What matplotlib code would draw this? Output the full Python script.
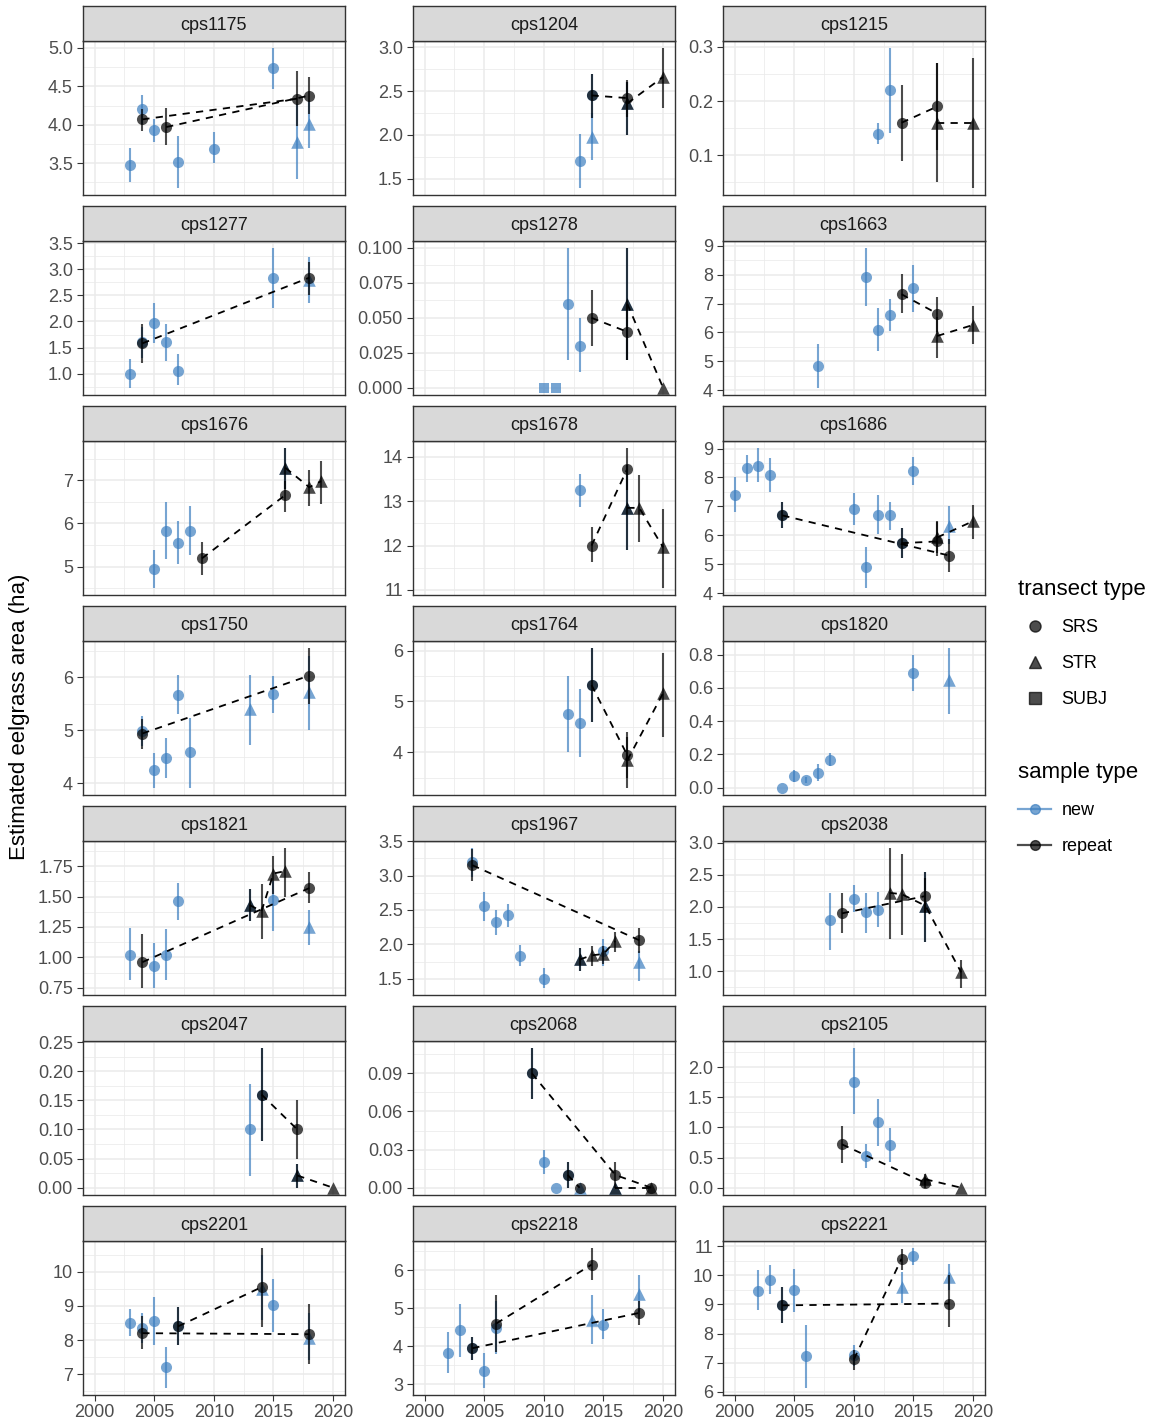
import matplotlib.pyplot as plt
import numpy as np
import pandas as pd
from matplotlib.lines import Line2D

plt.rcParams["font.family"] = ["Liberation Sans", "DejaVu Sans"]

W, H = 1154, 1424

# facet order and y tick labels per facet
sites = [
    "cps1175", "cps1204", "cps1215",
    "cps1277", "cps1278", "cps1663",
    "cps1676", "cps1678", "cps1686",
    "cps1750", "cps1764", "cps1820",
    "cps1821", "cps1967", "cps2038",
    "cps2047", "cps2068", "cps2105",
    "cps2201", "cps2218", "cps2221",
]
site_yticks = [
    ["3.5", "4.0", "4.5", "5.0"], ["1.5", "2.0", "2.5", "3.0"], ["0.1", "0.2", "0.3"],
    ["1.0", "1.5", "2.0", "2.5", "3.0", "3.5"], ["0.000", "0.025", "0.050", "0.075", "0.100"], ["4", "5", "6", "7", "8", "9"],
    ["5", "6", "7"], ["11", "12", "13", "14"], ["4", "5", "6", "7", "8", "9"],
    ["4", "5", "6"], ["4", "5", "6"], ["0.0", "0.2", "0.4", "0.6", "0.8"],
    ["0.75", "1.00", "1.25", "1.50", "1.75"], ["1.5", "2.0", "2.5", "3.0", "3.5"], ["1.0", "1.5", "2.0", "2.5", "3.0"],
    ["0.00", "0.05", "0.10", "0.15", "0.20", "0.25"], ["0.00", "0.03", "0.06", "0.09"], ["0.0", "0.5", "1.0", "1.5", "2.0"],
    ["7", "8", "9", "10"], ["3", "4", "5", "6"], ["6", "7", "8", "9", "10", "11"],
]
site_n = [12, 8, 6, 9, 9, 9, 10, 7, 18, 10, 7, 7, 13, 15, 11, 7, 13, 8, 12, 12, 13]

year = [
    2003, 2004, 2004, 2005, 2006, 2007, 2010, 2015, 2017, 2017, 2018, 2018,  # cps1175
    2013, 2014, 2014, 2014, 2017, 2017, 2017, 2020,  # cps1204
    2012, 2013, 2014, 2017, 2017, 2020,  # cps1215
    2003, 2004, 2004, 2005, 2006, 2007, 2015, 2018, 2018,  # cps1277
    2010, 2011, 2012, 2013, 2014, 2017, 2017, 2017, 2020,  # cps1278
    2007, 2011, 2012, 2013, 2014, 2015, 2017, 2017, 2020,  # cps1663
    2005, 2006, 2007, 2008, 2009, 2016, 2016, 2016, 2018, 2019,  # cps1676
    2013, 2014, 2017, 2017, 2017, 2018, 2020,  # cps1678
    2000, 2001, 2002, 2003, 2004, 2004, 2010, 2011, 2012, 2013, 2014, 2014, 2015, 2017, 2017, 2018, 2018, 2020,  # cps1686
    2004, 2004, 2005, 2006, 2007, 2008, 2013, 2015, 2018, 2018,  # cps1750
    2012, 2013, 2014, 2014, 2017, 2017, 2020,  # cps1764
    2004, 2005, 2006, 2007, 2008, 2015, 2018,  # cps1820
    2003, 2004, 2005, 2006, 2007, 2013, 2013, 2014, 2015, 2015, 2016, 2018, 2018,  # cps1821
    2004, 2004, 2005, 2006, 2007, 2008, 2010, 2013, 2013, 2014, 2015, 2015, 2016, 2018, 2018,  # cps1967
    2008, 2009, 2010, 2011, 2012, 2013, 2014, 2016, 2016, 2016, 2019,  # cps2038
    2013, 2014, 2014, 2017, 2017, 2017, 2020,  # cps2047
    2009, 2009, 2010, 2011, 2012, 2012, 2013, 2013, 2016, 2016, 2016, 2019, 2019,  # cps2068
    2009, 2010, 2011, 2012, 2013, 2016, 2016, 2019,  # cps2105
    2003, 2004, 2004, 2005, 2006, 2007, 2007, 2014, 2014, 2015, 2018, 2018,  # cps2201
    2002, 2003, 2004, 2004, 2005, 2006, 2006, 2014, 2014, 2015, 2018, 2018,  # cps2218
    2002, 2003, 2004, 2004, 2005, 2006, 2010, 2010, 2014, 2014, 2015, 2018, 2018,  # cps2221
]
est = [
    3.48, 4.20, 4.07, 3.93, 3.97, 3.51, 3.69, 4.74, 4.34, 3.78, 4.38, 4.01,
    1.70, 1.98, 2.45, 2.45, 2.42, 2.36, 2.36, 2.66,
    0.14, 0.22, 0.16, 0.19, 0.16, 0.16,
    1.00, 1.60, 1.58, 1.97, 1.60, 1.06, 2.83, 2.84, 2.80,
    0.0, 0.0, 0.060, 0.030, 0.050, 0.040, 0.060, 0.060, 0.0,
    4.83, 7.92, 6.08, 6.61, 7.32, 7.52, 6.65, 5.88, 6.26,
    4.95, 5.82, 5.55, 5.82, 5.19, 6.66, 7.29, 7.29, 6.84, 6.98,
    13.25, 12.00, 13.73, 12.85, 12.85, 12.85, 11.96,
    7.40, 8.32, 8.41, 8.09, 6.69, 6.69, 6.91, 4.89, 6.71, 6.69, 5.73, 5.73, 8.23, 5.79, 5.93, 5.30, 6.34, 6.49,
    4.99, 4.94, 4.25, 4.47, 5.67, 4.59, 5.41, 5.68, 6.03, 5.72,
    4.76, 4.57, 5.32, 5.32, 3.94, 3.84, 5.16,
    0.0, 0.07, 0.048, 0.09, 0.168, 0.69, 0.65,
    1.02, 0.96, 0.93, 1.02, 1.46, 1.43, 1.43, 1.38, 1.69, 1.47, 1.71, 1.57, 1.25,
    3.19, 3.15, 2.56, 2.32, 2.42, 1.83, 1.50, 1.78, 1.78, 1.84, 1.86, 1.90, 2.05, 2.06, 1.75,
    1.79, 1.90, 2.12, 1.92, 1.95, 2.22, 2.20, 2.17, 2.02, 2.02, 0.98,
    0.10, 0.16, 0.16, 0.10, 0.021, 0.021, 0.0,
    0.09, 0.09, 0.02, 0.0, 0.01, 0.01, 0.0, 0.0, 0.01, 0.0, 0.0, 0.0, 0.0,
    0.72, 1.76, 0.52, 1.09, 0.71, 0.08, 0.14, 0.0,
    8.51, 8.35, 8.20, 8.57, 7.20, 8.40, 8.40, 9.55, 9.50, 9.02, 8.17, 8.05,
    3.83, 4.42, 3.95, 3.95, 3.36, 4.49, 4.60, 6.15, 4.70, 4.57, 4.88, 5.39,
    9.46, 9.84, 8.97, 8.97, 9.49, 7.23, 7.25, 7.11, 10.57, 9.61, 10.66, 9.03, 9.95,
]
lo = [
    3.26, 4.01, 3.92, 3.78, 3.73, 3.18, 3.50, 4.47, 3.98, 3.29, 4.14, 3.70,
    1.40, 1.72, 2.19, 2.19, 2.20, 2.00, 2.00, 2.31,
    0.12, 0.141, 0.09, 0.11, 0.05, 0.04,
    0.73, 1.30, 1.20, 1.59, 1.24, 0.78, 2.25, 2.50, 2.36,
    0.0, 0.0, 0.020, 0.011, 0.030, 0.020, 0.020, 0.020, 0.0,
    4.09, 6.90, 5.36, 6.05, 6.66, 6.72, 6.00, 5.12, 5.59,
    4.51, 5.18, 5.05, 5.27, 4.80, 6.26, 6.80, 6.80, 6.40, 6.45,
    12.87, 11.64, 13.26, 11.89, 11.89, 12.09, 11.05,
    6.80, 7.84, 7.84, 7.51, 6.25, 6.25, 6.36, 4.19, 6.06, 6.20, 5.23, 5.23, 7.74, 5.29, 5.40, 4.72, 5.70, 5.86,
    4.70, 4.64, 3.92, 4.10, 5.30, 3.92, 4.72, 5.33, 5.50, 5.00,
    4.00, 3.90, 4.60, 4.60, 3.50, 3.30, 4.29,
    0.0, 0.034, 0.03, 0.04, 0.13, 0.58, 0.444,
    0.81, 0.75, 0.75, 0.81, 1.31, 1.30, 1.30, 1.15, 1.52, 1.22, 1.50, 1.45, 1.10,
    2.98, 2.92, 2.34, 2.14, 2.25, 1.68, 1.37, 1.61, 1.61, 1.69, 1.72, 1.69, 1.89, 1.88, 1.47,
    1.33, 1.60, 1.92, 1.60, 1.68, 1.50, 1.57, 1.90, 1.46, 1.46, 0.74,
    0.02, 0.08, 0.08, 0.05, 0.0, 0.0, 0.0,
    0.07, 0.07, 0.011, 0.0, 0.0, 0.0, 0.0, 0.0, 0.0, 0.0, 0.0, 0.0, 0.0,
    0.41, 1.22, 0.33, 0.70, 0.43, 0.0, 0.05, 0.0,
    8.11, 7.90, 7.75, 7.84, 6.60, 7.84, 7.84, 8.37, 8.60, 8.23, 7.30, 7.40,
    3.29, 3.72, 3.64, 3.64, 2.91, 3.79, 3.85, 5.74, 4.07, 4.20, 4.57, 4.90,
    8.81, 9.36, 8.35, 8.35, 8.74, 6.14, 6.90, 6.74, 10.20, 9.06, 10.37, 8.23, 9.50,
]
hi = [
    3.70, 4.39, 4.20, 4.07, 4.22, 3.86, 3.90, 5.00, 4.70, 4.27, 4.62, 4.32,
    2.01, 2.25, 2.69, 2.69, 2.63, 2.60, 2.60, 2.99,
    0.16, 0.298, 0.23, 0.27, 0.27, 0.28,
    1.28, 1.90, 1.96, 2.36, 1.96, 1.37, 3.41, 3.15, 3.24,
    0.0, 0.0, 0.100, 0.050, 0.070, 0.060, 0.100, 0.100, 0.0,
    5.59, 8.92, 6.83, 7.15, 8.02, 8.32, 7.24, 6.55, 6.92,
    5.39, 6.50, 6.06, 6.41, 5.56, 6.98, 7.75, 7.75, 7.23, 7.44,
    13.62, 12.41, 14.20, 13.81, 13.81, 13.58, 12.83,
    8.01, 8.78, 9.02, 8.66, 7.15, 7.15, 7.46, 5.59, 7.38, 7.17, 6.27, 6.27, 8.70, 6.50, 6.45, 5.86, 7.03, 7.05,
    5.27, 5.22, 4.58, 4.86, 6.05, 5.24, 6.04, 6.03, 6.55, 6.40,
    5.50, 5.24, 6.05, 6.05, 4.40, 4.30, 5.96,
    0.0, 0.106, 0.066, 0.14, 0.21, 0.80, 0.84,
    1.24, 1.19, 1.12, 1.23, 1.61, 1.56, 1.56, 1.60, 1.83, 1.63, 1.90, 1.70, 1.39,
    3.40, 3.38, 2.76, 2.50, 2.58, 1.99, 1.65, 1.94, 1.94, 1.97, 1.98, 2.08, 2.18, 2.24, 1.90,
    2.22, 2.21, 2.35, 2.22, 2.24, 2.92, 2.82, 2.45, 2.54, 2.54, 1.17,
    0.179, 0.24, 0.24, 0.15, 0.04, 0.04, 0.0,
    0.11, 0.11, 0.03, 0.0, 0.02, 0.02, 0.0, 0.0, 0.02, 0.0, 0.0, 0.0, 0.0,
    1.03, 2.32, 0.73, 1.47, 0.99, 0.17, 0.22, 0.0,
    8.90, 8.80, 8.70, 9.27, 7.80, 8.98, 8.98, 10.70, 10.50, 9.78, 9.07, 8.80,
    4.37, 5.12, 4.25, 4.25, 3.83, 5.20, 5.34, 6.59, 5.34, 4.97, 5.19, 5.89,
    10.17, 10.34, 9.61, 9.61, 10.23, 8.28, 7.60, 7.45, 10.89, 10.11, 10.94, 10.00, 10.40,
]
transect = [
    "SRS", "SRS", "SRS", "SRS", "SRS", "SRS", "SRS", "SRS", "SRS", "STR", "SRS", "STR",
    "SRS", "STR", "SRS", "SRS", "SRS", "STR", "STR", "STR",
    "SRS", "SRS", "SRS", "SRS", "STR", "STR",
    "SRS", "SRS", "SRS", "SRS", "SRS", "SRS", "SRS", "SRS", "STR",
    "SUBJ", "SUBJ", "SRS", "SRS", "SRS", "SRS", "STR", "STR", "STR",
    "SRS", "SRS", "SRS", "SRS", "SRS", "SRS", "SRS", "STR", "STR",
    "SRS", "SRS", "SRS", "SRS", "SRS", "SRS", "STR", "STR", "STR", "STR",
    "SRS", "SRS", "SRS", "STR", "STR", "STR", "STR",
    "SRS", "SRS", "SRS", "SRS", "SRS", "SRS", "SRS", "SRS", "SRS", "SRS", "SRS", "SRS", "SRS", "SRS", "STR", "SRS", "STR", "STR",
    "SRS", "SRS", "SRS", "SRS", "SRS", "SRS", "STR", "SRS", "SRS", "STR",
    "SRS", "SRS", "SRS", "SRS", "SRS", "STR", "STR",
    "SRS", "SRS", "SRS", "SRS", "SRS", "SRS", "STR",
    "SRS", "SRS", "SRS", "SRS", "SRS", "STR", "STR", "STR", "STR", "SRS", "STR", "SRS", "STR",
    "SRS", "SRS", "SRS", "SRS", "SRS", "SRS", "SRS", "STR", "STR", "STR", "STR", "SRS", "STR", "SRS", "STR",
    "SRS", "SRS", "SRS", "SRS", "SRS", "STR", "STR", "SRS", "STR", "STR", "STR",
    "SRS", "SRS", "SRS", "SRS", "STR", "STR", "STR",
    "SRS", "SRS", "SRS", "SRS", "SRS", "SRS", "SRS", "STR", "SRS", "STR", "STR", "SRS", "STR",
    "SRS", "SRS", "SRS", "SRS", "SRS", "SRS", "STR", "STR",
    "SRS", "SRS", "SRS", "SRS", "SRS", "SRS", "SRS", "SRS", "STR", "SRS", "SRS", "STR",
    "SRS", "SRS", "SRS", "SRS", "SRS", "SRS", "SRS", "SRS", "STR", "SRS", "SRS", "STR",
    "SRS", "SRS", "SRS", "SRS", "SRS", "SRS", "SRS", "SRS", "SRS", "STR", "SRS", "SRS", "STR",
]
N, R = "new", "repeat"
sample = [
    N, N, R, N, R, N, N, N, R, N, R, N,
    N, N, N, R, R, N, R, R,
    N, N, R, R, R, R,
    N, N, R, N, N, N, N, R, N,
    N, N, N, N, R, R, N, R, R,
    N, N, N, N, R, N, R, R, R,
    N, N, N, N, R, R, N, R, R, R,
    N, R, R, N, R, R, R,
    N, N, N, N, N, R, N, N, N, N, N, R, N, R, R, R, N, R,
    N, R, N, N, N, N, N, N, R, N,
    N, N, N, R, R, R, R,
    N, N, N, N, N, N, N,
    N, R, N, N, N, N, R, R, R, N, R, R, N,
    N, R, N, N, N, N, N, N, R, R, R, N, R, R, N,
    N, R, N, N, N, R, R, R, N, R, R,
    N, N, R, R, N, R, R,
    N, R, N, N, N, R, R, N, R, N, R, R, R,
    R, N, N, N, N, R, R, R,
    N, N, R, N, N, N, R, R, N, N, R, N,
    N, N, N, R, N, N, R, R, N, N, R, N,
    N, N, N, R, N, N, N, R, R, N, N, R, N,
]
# which dashed line (repeat transect) a point belongs to
line = [
    "", "", "a", "", "b", "", "", "", "a", "", "b", "",
    "", "", "", "a", "a", "", "b", "b",
    "", "", "a", "a", "b", "b",
    "", "", "a", "", "", "", "", "a", "",
    "", "", "", "", "a", "a", "", "b", "b",
    "", "", "", "", "a", "", "a", "b", "b",
    "", "", "", "", "a", "a", "", "b", "b", "b",
    "", "a", "a", "", "b", "b", "b",
    "", "", "", "", "", "a", "", "", "", "", "", "b", "", "b", "c", "a", "", "c",
    "", "a", "", "", "", "", "", "", "a", "",
    "", "", "", "a", "a", "b", "b",
    "", "", "", "", "", "", "",
    "", "a", "", "", "", "", "b", "b", "b", "", "b", "a", "",
    "", "a", "", "", "", "", "", "", "b", "b", "b", "", "b", "a", "",
    "", "a", "", "", "", "b", "b", "a", "", "b", "b",
    "", "", "a", "a", "", "b", "b",
    "", "a", "", "", "", "b", "b", "", "a", "", "c", "a", "c",
    "a", "", "", "", "", "a", "b", "b",
    "", "", "a", "", "", "", "b", "b", "", "", "a", "",
    "", "", "", "a", "", "", "b", "b", "", "", "a", "",
    "", "", "", "a", "", "", "", "b", "b", "", "", "a", "",
]

site = [s for s, n in zip(sites, site_n) for _ in range(n)]
df = pd.DataFrame({"site": site, "year": year, "est": est, "lo": lo, "hi": hi,
                   "transect": transect, "sample": sample, "line": line})

colors = {"new": "#3d7fc0", "repeat": "black"}
markers = {"SRS": ("o", 64), "STR": ("^", 82), "SUBJ": ("s", 52)}
ALPHA = 0.7

fig = plt.figure(figsize=(W / 100, H / 100), dpi=100)

col_left = [82.7, 412.7, 722.7]
panel_w = 262.3
panel_h = 153.7

for i, s in enumerate(sites):
    r, c = divmod(i, 3)
    top = 41 + 200 * r
    ax = fig.add_axes([col_left[c] / W, 1 - (top + panel_h) / H, panel_w / W, panel_h / H])
    sax = fig.add_axes([col_left[c] / W, 1 - top / H, panel_w / W, 35 / H])

    d = df[df["site"] == s]
    for smp in ["new", "repeat"]:
        ds = d[d["sample"] == smp]
        ax.vlines(ds["year"], ds["lo"], ds["hi"], color=colors[smp], alpha=ALPHA, lw=1.5, zorder=3)
        for tr, (mk, sz) in markers.items():
            dt = ds[ds["transect"] == tr]
            ax.scatter(dt["year"], dt["est"], marker=mk, s=sz, color=colors[smp],
                       alpha=ALPHA, linewidths=0, zorder=3)
    for grp in ["a", "b", "c"]:
        dl = d[d["line"] == grp].sort_values("year")
        if len(dl) > 1:
            ax.plot(dl["year"], dl["est"], ls=(0, (4, 3.5)), color="black", lw=1.3, zorder=4)

    # limits like ggplot (5% expansion)
    ymin, ymax = d["lo"].min(), d["hi"].max()
    pad = 0.05 * (ymax - ymin)

    labs = site_yticks[i]
    ticks = [float(t) for t in labs]
    step = ticks[1] - ticks[0]
    ax.set_yticks(ticks)
    ax.set_yticklabels(labs)
    ax.set_yticks(np.arange(ticks[0] - step / 2, ticks[-1] + step, step), minor=True)
    ax.set_xticks([2000, 2005, 2010, 2015, 2020])
    ax.set_xticks([2002.5, 2007.5, 2012.5, 2017.5], minor=True)
    ax.set_ylim(ymin - pad, ymax + pad)
    ax.set_xlim(1999, 2021)

    ax.grid(which="major", color="#EBEBEB", lw=1.1)
    ax.grid(which="minor", color="#EBEBEB", lw=0.55)
    ax.set_axisbelow(True)
    ax.tick_params(which="minor", length=0)
    ax.tick_params(which="major", length=4, width=0.8, color="#333333",
                   labelcolor="#4D4D4D", labelsize=13, pad=3)
    if r < 6:
        ax.tick_params(axis="x", length=0, labelbottom=False)
    for sp in ax.spines.values():
        sp.set_color("#333333")
        sp.set_linewidth(1.0)

    sax.set_facecolor("#D9D9D9")
    sax.set_xticks([])
    sax.set_yticks([])
    for sp in sax.spines.values():
        sp.set_color("#333333")
        sp.set_linewidth(1.0)
    sax.text(0.5, 0.45, s, ha="center", va="center", fontsize=13, color="#1A1A1A",
             transform=sax.transAxes)

fig.text(20 / W, 1 - 717 / H, "Estimated eelgrass area (ha)", rotation=90,
         ha="center", va="center", fontsize=16)

h_tr = [Line2D([], [], ls="none", marker=markers[t][0], color="black", alpha=ALPHA,
               markersize=8) for t in ["SRS", "STR", "SUBJ"]]
fig.legend(h_tr, ["SRS", "STR", "SUBJ"], title="transect type", loc="upper left",
           bbox_to_anchor=(1002 / W, 1 - 563 / H), frameon=False, fontsize=13,
           title_fontsize=16, labelspacing=1.05, handlelength=1.8, handletextpad=0.6,
           alignment="left")
h_sm = [Line2D([], [], color=colors[k], marker="o", lw=1.6, alpha=ALPHA, markersize=7)
        for k in ["new", "repeat"]]
fig.legend(h_sm, ["new", "repeat"], title="sample type", loc="upper left",
           bbox_to_anchor=(1002 / W, 1 - 746 / H), frameon=False, fontsize=13,
           title_fontsize=16, labelspacing=1.05, handlelength=1.8, handletextpad=0.6,
           alignment="left")

fig.savefig("out.png", dpi=100)
